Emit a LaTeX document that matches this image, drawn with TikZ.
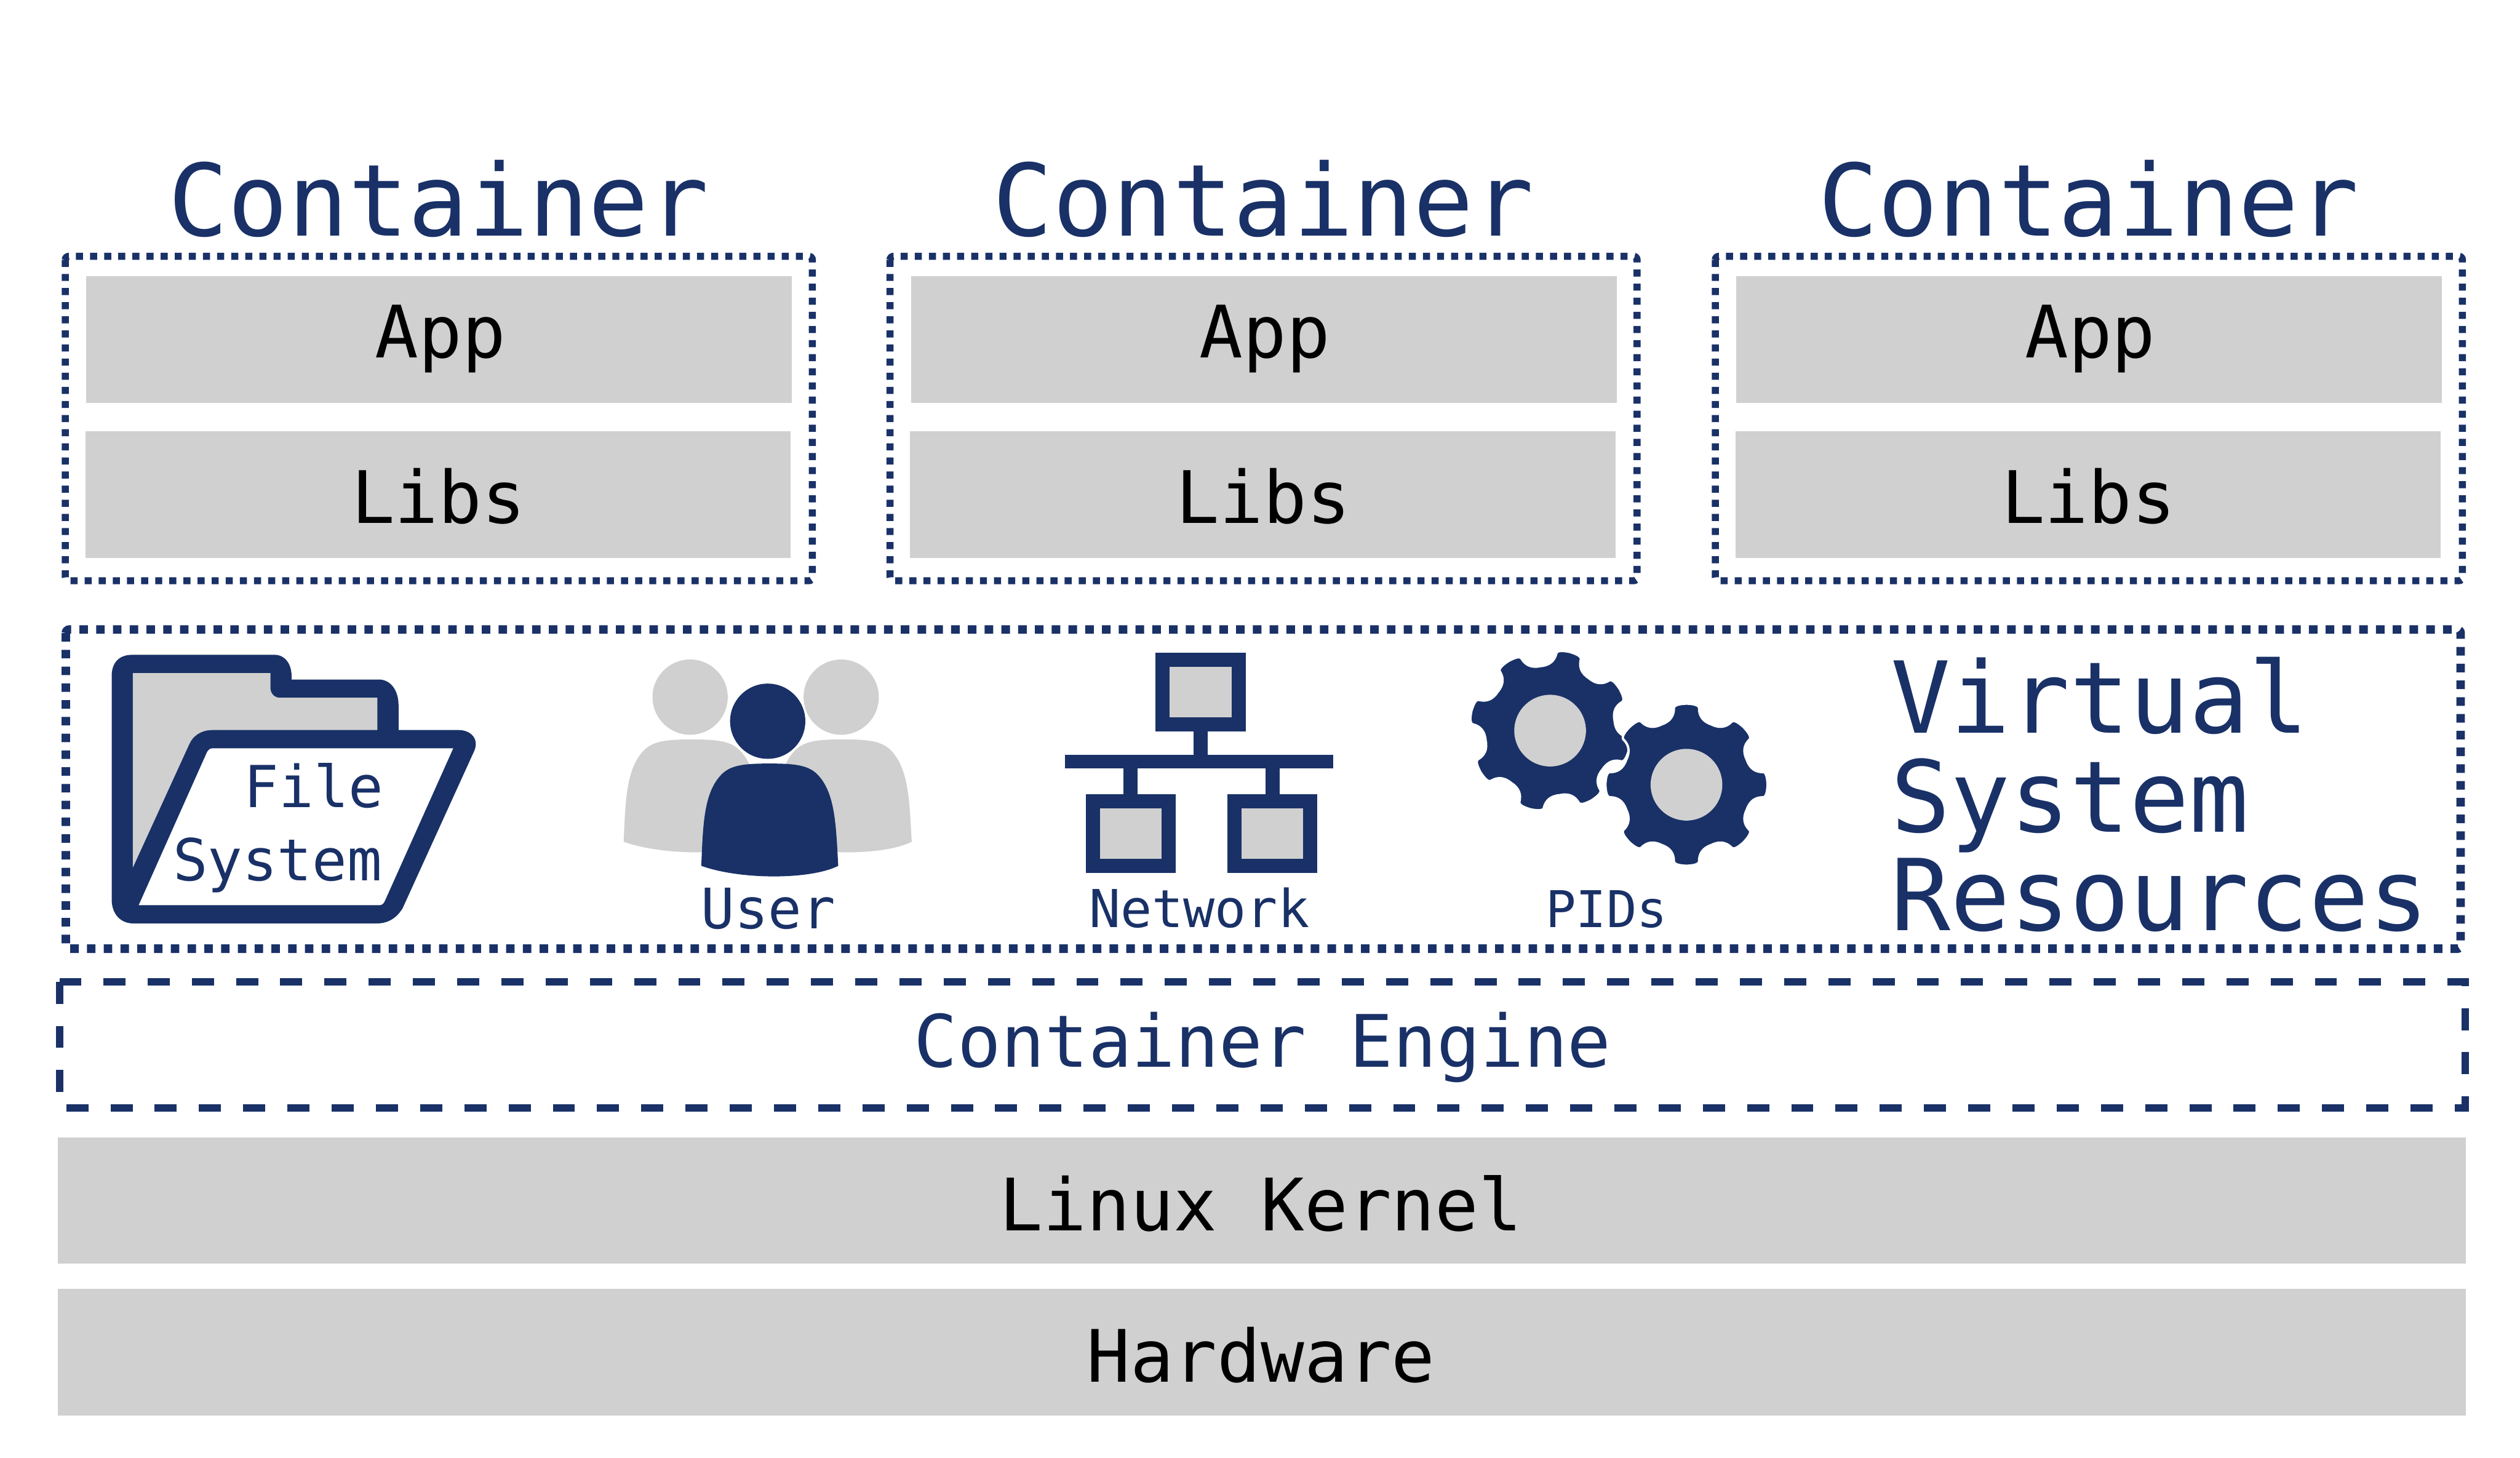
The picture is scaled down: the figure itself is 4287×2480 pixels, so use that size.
\documentclass[tikz,border=0pt]{standalone}
\usepackage{fontspec}
\setmonofont{DejaVu Sans Mono}
\usepackage{xcolor}
\usepackage{tikz}
\definecolor{navy}{HTML}{193167}
\definecolor{boxgray}{HTML}{D0D0D0}
\newcommand{\drawgear}[3]{
    \begin{scope}[shift={(#1,#2)},rotate=#3]
        \fill[navy, draw=white, line width=0.04cm] (-9.5:130)
            \foreach \a in {0,45,...,315} {
                .. controls (\a-9.5:137) and (\a-6:138) .. (\a:138)
                .. controls (\a+6:138) and (\a+9.5:137) .. (\a+9.5:130)
                .. controls (\a+10.5:120) and (\a+14:111) .. (\a+22.5:111)
                .. controls (\a+31:111) and (\a+34.5:120) .. (\a+35.5:130)
            } -- cycle;
        \fill[boxgray] (0,0) circle (61);
    \end{scope}
}
\newcommand{\drawperson}[4]{
    \fill[#4] (#1,#2) circle (64);
    \fill[#4] (#1-113,#3) .. controls (#1-110,#3-70) and (#1-109,#3-125) .. (#1-78,#3-156)
        .. controls (#1-62,#3-172) and (#1-37,#3-174) .. (#1+3,#3-174)
        .. controls (#1+43,#3-174) and (#1+68,#3-172) .. (#1+84,#3-156)
        .. controls (#1+115,#3-125) and (#1+116,#3-70) .. (#1+120,#3)
        .. controls (#1+73,#3+24) and (#1-47,#3+24) .. cycle;
}
\begin{document}
\begin{tikzpicture}[
        x=0.01cm, y=-0.01cm,
        lbl/.style={font=\ttfamily\fontsize{35}{35}\selectfont, inner sep=0pt, anchor=base},
        lblbig/.style={lbl, font=\ttfamily\fontsize{48.3}{48.3}\selectfont, text=navy},
        dotbox/.style={draw=navy, line width=0.12cm, dash pattern=on 0.12cm off 0.12cm, rounded corners=0.6mm},
    ]
    \useasboundingbox (0,0) rectangle (4287,2480);

    \foreach \c/\dx in {A/0, B/1403, C/2807} {
        \node[lblbig] (title\c) at (746+\dx, 401) {Container};
        \draw[dotbox] (111+\dx, 436) rectangle (1382+\dx, 988);
        \fill[boxgray] (147+\dx, 470) rectangle (1347+\dx, 685);
        \fill[boxgray] (145+\dx, 734) rectangle (1345+\dx, 949);
        \node[lbl] (app\c) at (749+\dx, 609) {App};
        \node[lbl] (libs\c) at (746+\dx, 890) {Libs};
    }

    \draw[dotbox, line width=0.145cm, dash pattern=on 0.145cm off 0.14cm] (112, 1071) rectangle (4186, 1614);

    \fill[navy] (190,1150) .. controls (190,1128) and (202,1114) .. (225,1114) -- (467,1114)
        .. controls (485,1114) and (496,1130) .. (496,1150) -- (496,1156) -- (644,1156)
        .. controls (665,1156) and (678,1175) .. (678,1200) -- (678,1242) -- (780,1242)
        .. controls (802,1242) and (815,1258) .. (807,1277) -- (685,1545)
        .. controls (676,1560) and (662,1571) .. (641,1571) -- (227,1571)
        .. controls (205,1571) and (190,1555) .. (190,1530) -- cycle;
    \fill[boxgray] (226,1145) -- (460,1145) -- (460,1170) .. controls (460,1180) and (467,1187) .. (476,1187)
        -- (642,1187) -- (642,1242) -- (361,1242) .. controls (342,1242) and (328,1252) .. (322,1266)
        -- (226,1476) -- cycle;
    \fill[white] (362,1273) -- (771,1273) -- (655,1532) .. controls (653,1537) and (650,1540) .. (645,1540)
        -- (236,1540) -- (352,1280) .. controls (354,1276) and (357,1273) .. (362,1273) -- cycle;
    \node[lbl, font=\ttfamily\fontsize{28}{28}\selectfont, text=navy] (file) at (534, 1374) {File};
    \node[lbl, font=\ttfamily\fontsize{28}{28}\selectfont, text=navy] (system) at (472, 1498) {System};

    \drawperson{1174}{1186}{1432}{boxgray}
    \drawperson{1431}{1186}{1432}{boxgray}
    \drawperson{1306}{1227}{1473}{navy}
    \node[lbl, font=\ttfamily\fontsize{27}{27}\selectfont, text=navy] (user) at (1307, 1580) {User};

    \fill[navy] (1812,1284) rectangle (2268,1307);
    \fill[navy] (2030,1244) rectangle (2054,1284);
    \foreach \bx/\by in {1966/1110, 1847/1351, 2088/1351} {
        \fill[navy] (\bx,\by) rectangle (\bx+153,\by+134);
        \fill[boxgray] (\bx+24,\by+24) rectangle (\bx+129,\by+110);
    }
    \fill[navy] (1911,1307) rectangle (1935,1351);
    \fill[navy] (2153,1307) rectangle (2177,1351);
    \node[lbl, font=\ttfamily\fontsize{25.3}{25.3}\selectfont, text=navy] (network) at (2040, 1578) {Network};

    \drawgear{2637}{1243}{31}
    \drawgear{2869}{1335}{0}
    \node[lbl, font=\ttfamily\fontsize{24.5}{24.5}\selectfont, text=navy] (pids) at (2733, 1578) {PIDs};

    \foreach \y/\word in {1247/Virtual, 1416/System, 1583/Resources} {
        \node[lblbig, font=\ttfamily\fontsize{48}{48}\selectfont, anchor=base west] (res\word) at (3216, \y) {\word};
    }

    \draw[navy, line width=0.125cm, dash pattern=on 0.376cm off 0.376cm] (102,1670) rectangle (4194,1885);
    \node[lbl, text=navy] (engine) at (2148, 1815) {Container Engine};

    \fill[boxgray] (98,1935) rectangle (4195,2150);
    \fill[boxgray] (98,2193) rectangle (4195,2408);
    \node[lbl] (kernel) at (2145, 2094) {Linux Kernel};
    \node[lbl] (hardware) at (2145, 2351) {Hardware};
\end{tikzpicture}
\end{document}
